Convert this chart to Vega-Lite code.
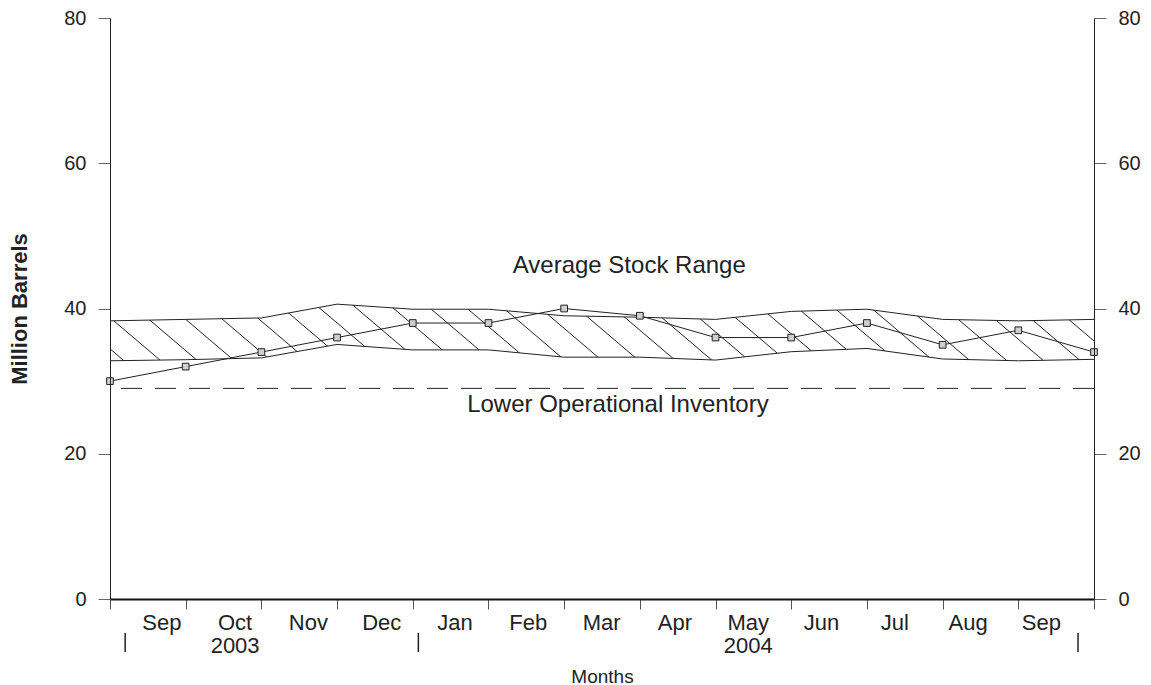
{
  "$schema": "https://vega.github.io/schema/vega-lite/v6.json",
  "width": 984,
  "height": 581,
  "autosize": {"type": "none"},
  "padding": {"left": 110, "top": 18, "right": 57, "bottom": 86},
  "background": "white",
  "config": {
    "view": {"stroke": null},
    "font": "Liberation Sans",
    "axis": {"labelFont": "Liberation Sans", "titleFont": "Liberation Sans", "grid": false}
  },
  "datasets": {
    "stocks": [
      {"idx": 0, "stock": 30, "upper": 38.3, "lower": 32.8},
      {"idx": 1, "stock": 32, "upper": 38.5, "lower": 32.95},
      {"idx": 2, "stock": 34, "upper": 38.7, "lower": 33.2},
      {"idx": 3, "stock": 36, "upper": 40.6, "lower": 35.05},
      {"idx": 4, "stock": 38, "upper": 39.9, "lower": 34.3},
      {"idx": 5, "stock": 38, "upper": 39.9, "lower": 34.3},
      {"idx": 6, "stock": 40, "upper": 39.0, "lower": 33.3},
      {"idx": 7, "stock": 39, "upper": 38.8, "lower": 33.3},
      {"idx": 8, "stock": 36, "upper": 38.5, "lower": 32.9},
      {"idx": 9, "stock": 36, "upper": 39.6, "lower": 34.05},
      {"idx": 10, "stock": 38, "upper": 39.9, "lower": 34.5},
      {"idx": 11, "stock": 35, "upper": 38.5, "lower": 33.05},
      {"idx": 12, "stock": 37, "upper": 38.3, "lower": 32.8},
      {"idx": 13, "stock": 34, "upper": 38.5, "lower": 33.0}
    ],
    "hatch": [
      {"top": -0.739, "bottom": 0.219},
      {"top": -0.253, "bottom": 0.705},
      {"top": 0.233, "bottom": 1.191},
      {"top": 0.719, "bottom": 1.677},
      {"top": 1.205, "bottom": 2.163},
      {"top": 1.691, "bottom": 2.649},
      {"top": 2.177, "bottom": 3.135},
      {"top": 2.663, "bottom": 3.621},
      {"top": 3.149, "bottom": 4.107},
      {"top": 3.635, "bottom": 4.593},
      {"top": 4.121, "bottom": 5.079},
      {"top": 4.607, "bottom": 5.565},
      {"top": 5.093, "bottom": 6.051},
      {"top": 5.579, "bottom": 6.537},
      {"top": 6.065, "bottom": 7.023},
      {"top": 6.551, "bottom": 7.509},
      {"top": 7.037, "bottom": 7.995},
      {"top": 7.523, "bottom": 8.481},
      {"top": 8.009, "bottom": 8.967},
      {"top": 8.495, "bottom": 9.453},
      {"top": 8.981, "bottom": 9.939},
      {"top": 9.467, "bottom": 10.425},
      {"top": 9.953, "bottom": 10.911},
      {"top": 10.439, "bottom": 11.397},
      {"top": 10.925, "bottom": 11.883},
      {"top": 11.411, "bottom": 12.369},
      {"top": 11.897, "bottom": 12.855},
      {"top": 12.383, "bottom": 13.341},
      {"top": 12.869, "bottom": 13.827}
    ],
    "loi": [{"level": 29}],
    "notes": [
      {"note": "Average Stock Range", "x": 6.86, "y": 44.9},
      {"note": "Lower Operational Inventory", "x": 6.71, "y": 25.7}
    ],
    "months": [
      {"i": 0, "m": "Sep"}, {"i": 1, "m": "Oct"}, {"i": 2, "m": "Nov"}, {"i": 3, "m": "Dec"},
      {"i": 4, "m": "Jan"}, {"i": 5, "m": "Feb"}, {"i": 6, "m": "Mar"}, {"i": 7, "m": "Apr"},
      {"i": 8, "m": "May"}, {"i": 9, "m": "Jun"}, {"i": 10, "m": "Jul"}, {"i": 11, "m": "Aug"},
      {"i": 12, "m": "Sep"}
    ],
    "years": [{"i": 1, "year": "2003"}, {"i": 8, "year": "2004"}],
    "yearMarks": [{"i": -0.5}, {"i": 3.5}, {"i": 12.5}]
  },
  "layer": [
    {
      "data": {"name": "hatch"},
      "mark": {"type": "rule", "clip": true, "stroke": "#222", "strokeWidth": 1},
      "encoding": {
        "x": {"field": "top", "type": "quantitative", "scale": {"domain": [0, 13], "nice": false, "zero": false}, "axis": null},
        "x2": {"field": "bottom"},
        "y": {"datum": 41, "type": "quantitative", "scale": {"domain": [0, 80], "nice": false}, "axis": null},
        "y2": {"datum": 32.5}
      }
    },
    {
      "data": {"name": "stocks"},
      "mark": {"type": "area", "fill": "white", "clip": true},
      "encoding": {
        "x": {"field": "idx", "type": "quantitative", "scale": {"domain": [0, 13], "nice": false, "zero": false}, "axis": null},
        "y": {"field": "upper", "type": "quantitative", "scale": {"domain": [0, 80], "nice": false}, "axis": null},
        "y2": {"datum": 42}
      }
    },
    {
      "data": {"name": "stocks"},
      "mark": {"type": "area", "fill": "white", "clip": true},
      "encoding": {
        "x": {"field": "idx", "type": "quantitative", "scale": {"domain": [0, 13], "nice": false, "zero": false}, "axis": null},
        "y": {"field": "lower", "type": "quantitative", "scale": {"domain": [0, 80], "nice": false}, "axis": null},
        "y2": {"datum": 32}
      }
    },
    {
      "data": {"name": "stocks"},
      "mark": {"type": "line", "stroke": "#222", "strokeWidth": 1},
      "encoding": {
        "x": {"field": "idx", "type": "quantitative", "scale": {"domain": [0, 13], "nice": false, "zero": false}, "axis": null},
        "y": {"field": "upper", "type": "quantitative", "scale": {"domain": [0, 80], "nice": false}, "axis": null}
      }
    },
    {
      "data": {"name": "stocks"},
      "mark": {"type": "line", "stroke": "#222", "strokeWidth": 1},
      "encoding": {
        "x": {"field": "idx", "type": "quantitative", "scale": {"domain": [0, 13], "nice": false, "zero": false}, "axis": null},
        "y": {"field": "lower", "type": "quantitative", "scale": {"domain": [0, 80], "nice": false}, "axis": null}
      }
    },
    {
      "data": {"name": "loi"},
      "mark": {"type": "rule", "stroke": "#222", "strokeWidth": 1, "strokeDash": [21, 13]},
      "encoding": {
        "y": {
          "field": "level", "type": "quantitative", "scale": {"domain": [0, 80], "nice": false},
          "axis": {
            "orient": "right", "values": [0, 20, 40, 60, 80], "title": null,
            "labelFontSize": 20, "labelColor": "#222", "labelPadding": 12,
            "tickSize": 12, "tickColor": "#666", "domainColor": "#222", "domainWidth": 1, "zindex": 1
          }
        }
      }
    },
    {
      "data": {"name": "stocks"},
      "mark": {
        "type": "line", "stroke": "#222", "strokeWidth": 1,
        "point": {"shape": "square", "size": 45, "filled": true, "fill": "#cfcfcf", "stroke": "#222", "strokeWidth": 1}
      },
      "encoding": {
        "x": {
          "field": "idx", "type": "quantitative", "scale": {"domain": [0, 13], "nice": false, "zero": false},
          "axis": {
            "orient": "bottom", "values": [0, 1, 2, 3, 4, 5, 6, 7, 8, 9, 10, 11, 12, 13],
            "labels": false, "tickSize": 10, "tickColor": "#555", "domainColor": "#111", "domainWidth": 2,
            "title": "Months", "titleFontSize": 19, "titleFontWeight": "normal", "titleColor": "#222",
            "titleY": 83, "titleBaseline": "alphabetic", "zindex": 1
          }
        },
        "y": {
          "field": "stock", "type": "quantitative", "scale": {"domain": [0, 80], "nice": false},
          "axis": {
            "orient": "left", "values": [0, 20, 40, 60, 80],
            "labelFontSize": 20, "labelColor": "#222", "labelPadding": 12,
            "tickSize": 12, "tickColor": "#666", "domainColor": "#222", "domainWidth": 1,
            "title": "Million Barrels", "titleFontSize": 22, "titleFontWeight": "bold", "titleColor": "#222",
            "titleX": -90.5, "titleY": 290.5, "titleAngle": -90, "titleAlign": "center", "titleBaseline": "middle",
            "zindex": 1
          }
        }
      }
    },
    {
      "data": {"name": "notes"},
      "mark": {"type": "text", "fontSize": 24, "color": "#222", "align": "center", "baseline": "alphabetic"},
      "encoding": {
        "x": {"field": "x", "type": "quantitative", "scale": {"domain": [0, 13], "nice": false, "zero": false}, "axis": null},
        "y": {"field": "y", "type": "quantitative", "scale": {"domain": [0, 80], "nice": false}, "axis": null},
        "text": {"field": "note"}
      }
    },
    {
      "data": {"name": "months"},
      "mark": {"type": "text", "fontSize": 22, "color": "#222", "align": "center", "baseline": "alphabetic"},
      "encoding": {
        "x": {"field": "i", "type": "quantitative", "scale": {"domain": [-0.707, 12.718], "nice": false, "zero": false}, "axis": null},
        "y": {"datum": -4.27, "type": "quantitative", "scale": {"domain": [0, 80], "nice": false}, "axis": null},
        "text": {"field": "m"}
      }
    },
    {
      "data": {"name": "years"},
      "mark": {"type": "text", "fontSize": 22, "color": "#222", "align": "center", "baseline": "alphabetic"},
      "encoding": {
        "x": {"field": "i", "type": "quantitative", "scale": {"domain": [-0.707, 12.718], "nice": false, "zero": false}, "axis": null},
        "y": {"datum": -7.44, "type": "quantitative", "scale": {"domain": [0, 80], "nice": false}, "axis": null},
        "text": {"field": "year"}
      }
    },
    {
      "data": {"name": "yearMarks"},
      "mark": {"type": "rule", "stroke": "#222", "strokeWidth": 1.5},
      "encoding": {
        "x": {"field": "i", "type": "quantitative", "scale": {"domain": [-0.707, 12.718], "nice": false, "zero": false}, "axis": null},
        "y": {"datum": -4.68, "type": "quantitative", "scale": {"domain": [0, 80], "nice": false}, "axis": null},
        "y2": {"datum": -7.3}
      }
    }
  ],
  "resolve": {"scale": {"x": "independent"}, "axis": {"x": "independent", "y": "independent"}}
}
